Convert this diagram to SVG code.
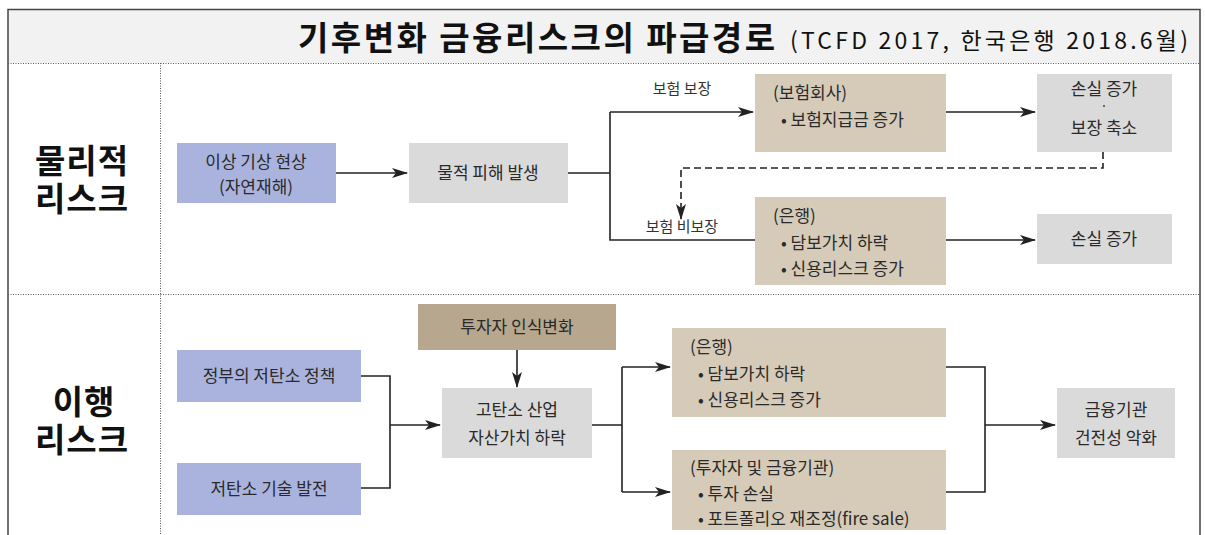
<svg xmlns="http://www.w3.org/2000/svg" width="1205" height="535" viewBox="0 0 1205 535">
<defs>
<marker id="ah" viewBox="0 0 16 10" refX="15" refY="5" markerWidth="16" markerHeight="10" markerUnits="userSpaceOnUse" orient="auto">
<path d="M0,0 L16,5 L0,10 L4,5 z" fill="#222"/>
</marker>
<style>
.t{font-family:"Noto Sans CJK KR","Noto Sans",sans-serif;fill:#2a2a2a;font-size:17px}
.c{text-anchor:middle}
.lab{font-family:"Noto Sans CJK KR","Noto Sans",sans-serif;fill:#111;font-size:33px;font-weight:bold;text-anchor:middle;letter-spacing:1px}
.sm{font-family:"Noto Sans CJK KR","Noto Sans",sans-serif;fill:#333;font-size:15px;text-anchor:middle}
.blue{fill:#aab3de}
.gray{fill:#dadada}
.tan{fill:#d6cab8}
.dtan{fill:#b6a78e}
.ln{fill:none;stroke:#222;stroke-width:1.6}
.arr{fill:none;stroke:#222;stroke-width:1.6;marker-end:url(#ah)}
.dot{stroke:#555;stroke-width:1;stroke-dasharray:1 1.5;fill:none}
</style>
</defs>
<rect x="0" y="0" width="1205" height="535" fill="#fff"/>
<g id="frame">
<rect x="8" y="10" width="1192" height="53" fill="#f2f2f2"/>
<path d="M8,540 V9.5 H1200 V540" fill="none" stroke="#444" stroke-width="1.5"/>
<line class="dot" x1="8" y1="63.5" x2="1200" y2="63.5"/>
<line class="dot" x1="8" y1="294.5" x2="1200" y2="294.5"/>
<line class="dot" x1="160.5" y1="63" x2="160.5" y2="535"/>
</g>
<g id="title">
<text x="298" y="50" textLength="477" lengthAdjust="spacing" style="font-family:'Noto Sans CJK KR','Noto Sans',sans-serif;font-weight:bold;font-size:33px;fill:#111">기후변화 금융리스크의 파급경로</text>
<text x="790" y="49" textLength="398" lengthAdjust="spacing" style="font-family:'Noto Sans CJK KR','Noto Sans',sans-serif;font-size:23px;fill:#111">(TCFD 2017, 한국은행 2018.6월)</text>
</g>
<g id="row-labels">
<text class="lab" x="82" y="173"><tspan x="82">물리적</tspan><tspan x="82" dy="38">리스크</tspan></text>
<text class="lab" x="84" y="414"><tspan x="84">이행</tspan><tspan x="82" dy="38">리스크</tspan></text>
</g>
<g id="connectors">
<line class="arr" x1="336" y1="173" x2="407" y2="173"/>
<path class="ln" d="M568,173 H610 M610,112 V240 H755"/>
<line class="arr" x1="610" y1="112" x2="753" y2="112"/>
<line class="arr" x1="946" y1="112" x2="1035" y2="112"/>
<line class="arr" x1="946" y1="240" x2="1035" y2="240"/>
<path d="M1103,152 V168 H681 V219" fill="none" stroke="#222" stroke-width="1.6" stroke-dasharray="7 4" marker-end="url(#ah)"/>
<path class="ln" d="M361,376 H390 V488 H361"/>
<line class="arr" x1="390" y1="425" x2="440" y2="425"/>
<line class="arr" x1="517" y1="350" x2="517" y2="387"/>
<path class="ln" d="M592,425 H622 M622,367 V492"/>
<line class="arr" x1="622" y1="367" x2="670" y2="367"/>
<line class="arr" x1="622" y1="492" x2="670" y2="492"/>
<path class="ln" d="M946,367 H985 V492 H946"/>
<line class="arr" x1="985" y1="425" x2="1055" y2="425"/>
<text class="sm" x="682" y="94">보험 보장</text>
<text class="sm" x="682" y="232">보험 비보장</text>
</g>
<g id="n1"><rect class="blue" x="177" y="143" width="159" height="60"/>
<text class="t c" x="256" y="168">이상 기상 현상</text><text class="t c" x="256" y="193">(자연재해)</text></g>
<g id="n2"><rect class="gray" x="409" y="143" width="159" height="60"/>
<text class="t c" x="488" y="179">물적 피해 발생</text></g>
<g id="n3"><rect class="tan" x="755" y="74" width="191" height="78"/>
<text class="t" x="773" y="99">(보험회사)</text><text class="t" x="781" y="126">• 보험지급금 증가</text></g>
<g id="n4"><rect class="gray" x="1037" y="74" width="135" height="78"/>
<text class="t c" x="1104" y="95">손실 증가</text><circle cx="1104" cy="106" r="0.9" fill="#333"/><text class="t c" x="1104" y="134">보장 축소</text></g>
<g id="n5"><rect class="tan" x="755" y="197" width="191" height="88"/>
<text class="t" x="773" y="222">(은행)</text><text class="t" x="781" y="249">• 담보가치 하락</text><text class="t" x="781" y="275">• 신용리스크 증가</text></g>
<g id="n6"><rect class="gray" x="1037" y="214" width="135" height="50"/>
<text class="t c" x="1104" y="245">손실 증가</text></g>
<g id="n7"><rect class="blue" x="177" y="350" width="184" height="52"/>
<text class="t c" x="269" y="382">정부의 저탄소 정책</text></g>
<g id="n8"><rect class="blue" x="177" y="463" width="184" height="52"/>
<text class="t c" x="269" y="495">저탄소 기술 발전</text></g>
<g id="n9"><rect class="dtan" x="418" y="304" width="198" height="46"/>
<text class="t c" x="517" y="333">투자자 인식변화</text></g>
<g id="n10"><rect class="gray" x="442" y="388" width="150" height="70"/>
<text class="t c" x="517" y="416">고탄소 산업</text><text class="t c" x="517" y="444">자산가치 하락</text></g>
<g id="n11"><rect class="tan" x="672" y="328" width="274" height="89"/>
<text class="t" x="690" y="353">(은행)</text><text class="t" x="698" y="380">• 담보가치 하락</text><text class="t" x="698" y="406">• 신용리스크 증가</text></g>
<g id="n12"><rect class="tan" x="672" y="450" width="274" height="80"/>
<text class="t" x="690" y="474">(투자자 및 금융기관)</text><text class="t" x="698" y="500">• 투자 손실</text><text class="t" x="698" y="525">• 포트폴리오 재조정(fire sale)</text></g>
<g id="n13"><rect class="gray" x="1057" y="388" width="118" height="70"/>
<text class="t c" x="1116" y="416">금융기관</text><text class="t c" x="1116" y="444">건전성 악화</text></g>
</svg>
